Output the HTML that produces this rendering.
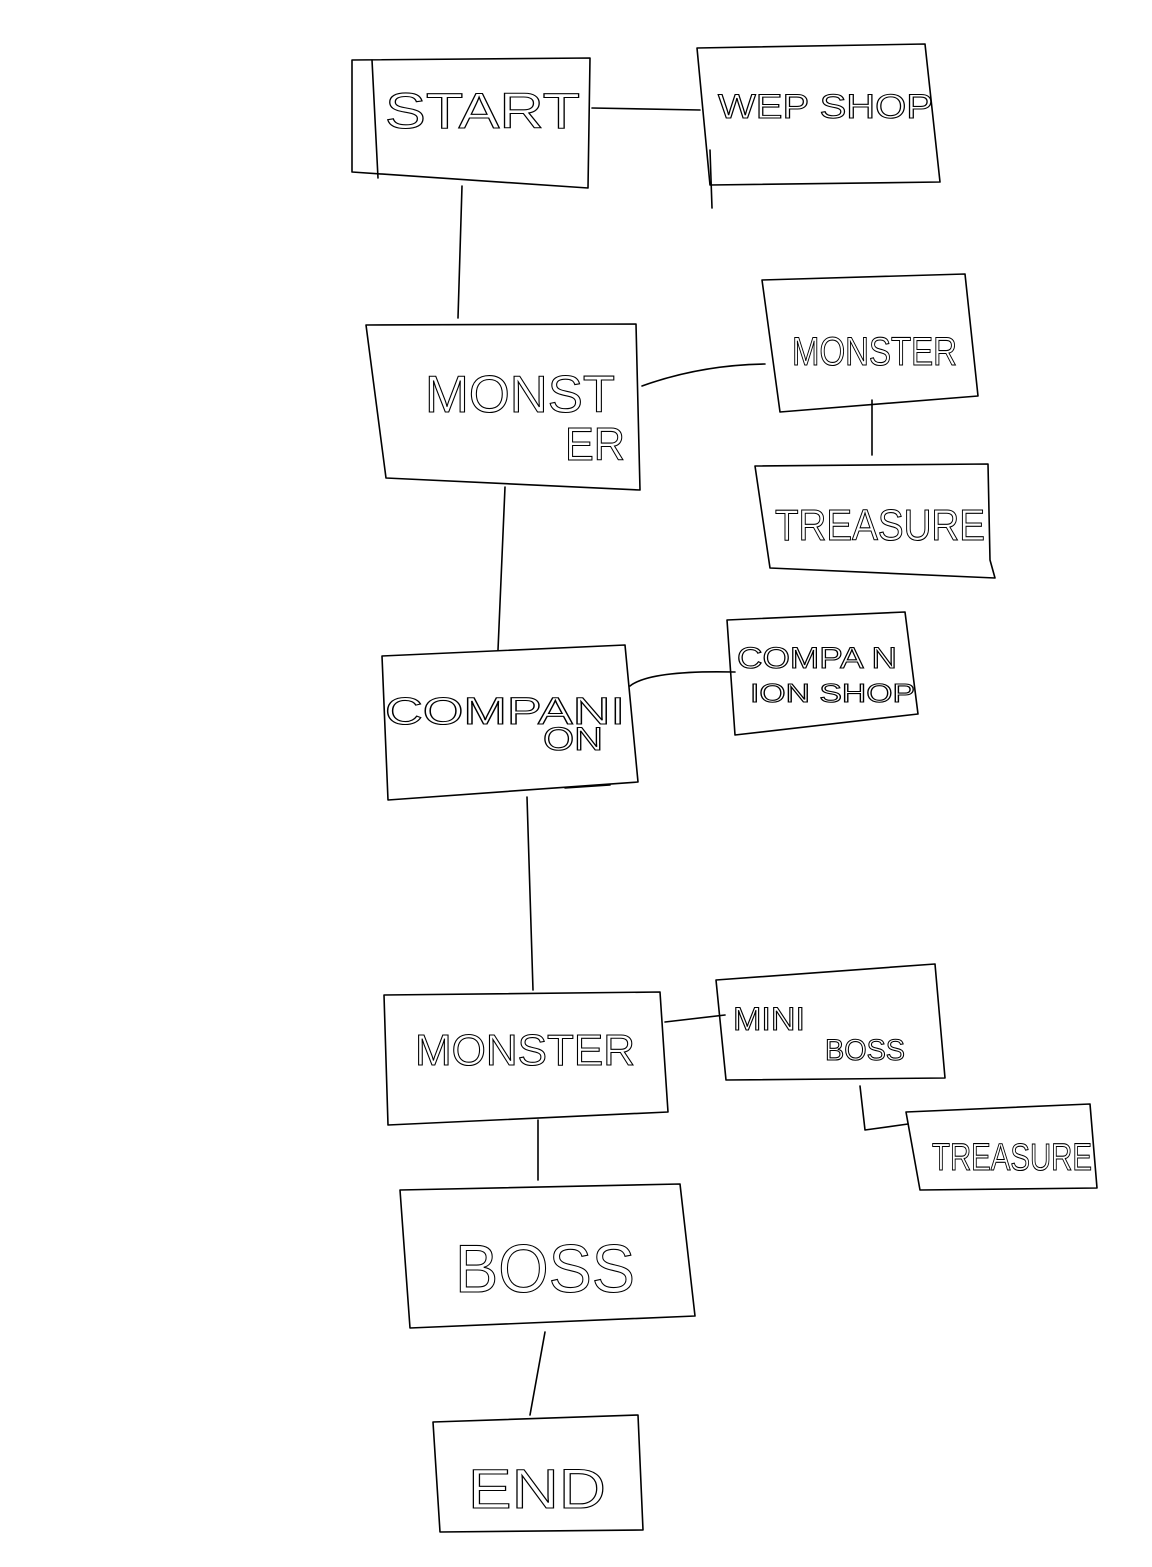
<!DOCTYPE html>
<html><head><meta charset="utf-8"><style>
html,body{margin:0;padding:0;background:#fff;}
svg{display:block}
text{font-family:"Liberation Sans",sans-serif;fill:#fff;stroke:#000;stroke-width:1.1;font-weight:normal}
</style></head><body>
<svg width="1152" height="1567" viewBox="0 0 1152 1567" xmlns="http://www.w3.org/2000/svg">
<g fill="none" stroke="#000" stroke-width="1.6" stroke-linejoin="round" stroke-linecap="round">
<path d="M352,60 L590,58 L588,188 L352,172 Z"/>
<path d="M372,60 L378,178"/>
<path d="M697,48 L925,44 L940,182 L710,185 Z"/>
<path d="M710,150 L712,208"/>
<path d="M592,108 L700,110"/>
<path d="M462,186 L458,318"/>
<path d="M366,325 L636,324 L640,490 L386,478 Z"/>
<path d="M642,386 Q700,365 765,364"/>
<path d="M762,280 L965,274 L978,396 L780,412 Z"/>
<path d="M872,400 L872,455"/>
<path d="M755,466 L988,464 L990,560 L995,578 L770,568 Z"/>
<path d="M505,487 L498,650"/>
<path d="M382,656 L625,645 L638,782 L388,800 Z"/>
<path d="M565,788 L610,785"/>
<path d="M630,686 Q650,670 735,672"/>
<path d="M727,620 L905,612 L918,714 L735,735 Z"/>
<path d="M527,797 L533,990"/>
<path d="M384,995 L660,992 L668,1112 L388,1125 Z"/>
<path d="M665,1022 L725,1015"/>
<path d="M716,980 L935,964 L945,1078 L726,1080 Z"/>
<path d="M860,1086 L865,1130 L908,1124"/>
<path d="M906,1112 L1090,1104 L1097,1188 L920,1190 Z"/>
<path d="M538,1120 L538,1180"/>
<path d="M400,1190 L680,1184 L695,1316 L410,1328 Z"/>
<path d="M545,1332 L530,1415"/>
<path d="M433,1422 L638,1415 L643,1530 L440,1532 Z"/>
</g>
<g>
<text x="385" y="128" font-size="50" textLength="195" lengthAdjust="spacingAndGlyphs">START</text>
<text x="718" y="118" font-size="34" textLength="215" lengthAdjust="spacingAndGlyphs">WEP SHOP</text>
<text x="425" y="412" font-size="52" textLength="190" lengthAdjust="spacingAndGlyphs">MONST</text>
<text x="565" y="460" font-size="46" textLength="60" lengthAdjust="spacingAndGlyphs">ER</text>
<text x="792" y="365" font-size="40" textLength="165" lengthAdjust="spacingAndGlyphs">MONSTER</text>
<text x="775" y="540" font-size="44" textLength="210" lengthAdjust="spacingAndGlyphs">TREASURE</text>
<text x="385" y="724" font-size="38" textLength="240" lengthAdjust="spacingAndGlyphs">COMPANI</text>
<text x="543" y="750" font-size="32" textLength="60" lengthAdjust="spacingAndGlyphs">ON</text>
<text x="737" y="668" font-size="30" textLength="160" lengthAdjust="spacingAndGlyphs">COMPA N</text>
<text x="750" y="702" font-size="26" textLength="165" lengthAdjust="spacingAndGlyphs">ION SHOP</text>
<text x="415" y="1065" font-size="44" textLength="220" lengthAdjust="spacingAndGlyphs">MONSTER</text>
<text x="733" y="1030" font-size="32" textLength="72" lengthAdjust="spacingAndGlyphs">MINI</text>
<text x="825" y="1060" font-size="30" textLength="80" lengthAdjust="spacingAndGlyphs">BOSS</text>
<text x="932" y="1170" font-size="38" textLength="160" lengthAdjust="spacingAndGlyphs">TREASURE</text>
<text x="455" y="1292" font-size="68" textLength="180" lengthAdjust="spacingAndGlyphs">BOSS</text>
<text x="468" y="1508" font-size="56" textLength="138" lengthAdjust="spacingAndGlyphs">END</text>
</g>
</svg>
</body></html>
